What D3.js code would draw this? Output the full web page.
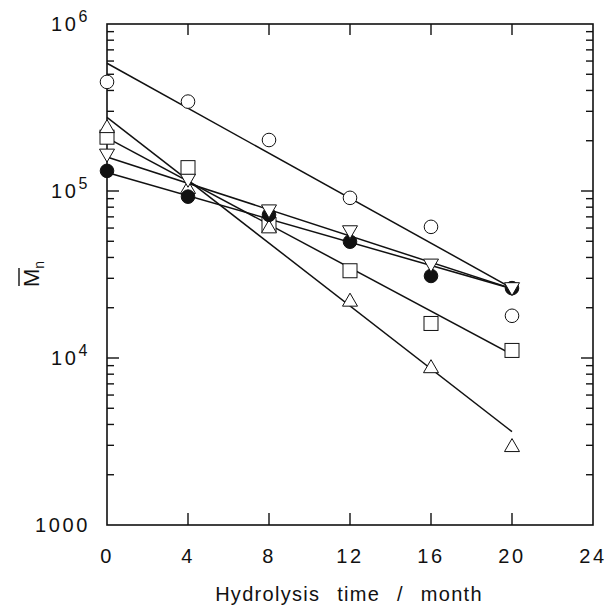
<!DOCTYPE html>
<html>
<head>
<meta charset="utf-8">
<script src="https://cdn.jsdelivr.net/npm/d3@7"></script>
<style>
  html, body { margin: 0; padding: 0; background: #fff; }
  svg { display: block; }
  text { font-family: "Liberation Sans", Arial, Helvetica, sans-serif; fill: #111; }
</style>
</head>
<body>
<svg id="chart" width="608" height="607"></svg>
<script>
// Hydrolysis time (months)
const months = [0, 4, 8, 12, 16, 20];

// Number-average molecular weight per sample
const openCircle   = [450000, 343000, 202000, 91000, 61000, 17900];
const filledCircle = [132000, 92500, 72000, 49700, 31000, 26200];
const downTriangle = [164000, 116000, 76000, 57000, 36000, 26000];
const openSquare   = [210000, 138000, 63000, 33300, 16100, 11100];
const upTriangle   = [243000, 105000, 61000, 22200, 8870, 2990];

// Exponential fit lines: value at month 0 and month 20
const fitOpenCircle   = [582000, 26200];
const fitFilledCircle = [129000, 26000];
const fitDownTriangle = [160000, 26000];
const fitOpenSquare   = [208000, 10500];
const fitUpTriangle   = [276000, 3620];
const fitMonths = [0, 20];

// Axis ticks
const xTicks = [0, 4, 8, 12, 16, 20, 24];
const yMajor = [1000, 10000, 100000, 1000000];
const yTickLabels = [["1000", ""], ["10", "4"], ["10", "5"], ["10", "6"]];

const series = [
  { values: openCircle,   fit: fitOpenCircle,   shape: "circle",   filled: false },
  { values: openSquare,   fit: fitOpenSquare,   shape: "square",   filled: false },
  { values: upTriangle,   fit: fitUpTriangle,   shape: "up",       filled: false },
  { values: filledCircle, fit: fitFilledCircle, shape: "circle",   filled: true },
  { values: downTriangle, fit: fitDownTriangle, shape: "down",     filled: false }
];

const svg = d3.select("#chart");
const plotLeft = 107, plotRight = 593, plotTop = 24, plotBottom = 525;

const x = d3.scaleLinear().domain([0, 24]).range([plotLeft, plotRight]);
const y = d3.scaleLog().domain([1000, 1000000]).range([plotBottom, plotTop]);

const yMinor = [];
for (let d = 1000; d < 1000000; d *= 10) {
  for (let k = 2; k <= 9; k++) yMinor.push(d * k);
}

// Frame
svg.append("rect")
  .attr("x", plotLeft).attr("y", plotTop)
  .attr("width", plotRight - plotLeft).attr("height", plotBottom - plotTop)
  .attr("fill", "none").attr("stroke", "#111").attr("stroke-width", 1.6);

const tickG = svg.append("g").attr("stroke", "#111").attr("stroke-width", 1.4);

// X ticks on bottom and top, pointing inward
xTicks.slice(1, -1).forEach(t => {
  tickG.append("line").attr("x1", x(t)).attr("x2", x(t)).attr("y1", plotBottom).attr("y2", plotBottom - 12);
  tickG.append("line").attr("x1", x(t)).attr("x2", x(t)).attr("y1", plotTop).attr("y2", plotTop + 11);
});

// Y ticks on left and right, pointing inward
yMajor.slice(1, -1).forEach(t => {
  tickG.append("line").attr("x1", plotLeft).attr("x2", plotLeft + 12).attr("y1", y(t)).attr("y2", y(t));
  tickG.append("line").attr("x1", plotRight).attr("x2", plotRight - 12).attr("y1", y(t)).attr("y2", y(t));
});
yMinor.forEach(t => {
  tickG.append("line").attr("x1", plotLeft).attr("x2", plotLeft + 7).attr("y1", y(t)).attr("y2", y(t));
  tickG.append("line").attr("x1", plotRight).attr("x2", plotRight - 7).attr("y1", y(t)).attr("y2", y(t));
});

// X tick labels
svg.append("g").selectAll("text").data(xTicks).join("text")
  .attr("x", d => x(d))
  .attr("y", 563)
  .attr("text-anchor", "middle")
  .attr("font-size", 20)
  .attr("letter-spacing", 2.6)
  .text(d => d);

// Y tick labels
yMajor.forEach((v, i) => {
  const [base, exp] = yTickLabels[i];
  const t = svg.append("text")
    .attr("x", 90)
    .attr("y", y(v) + 7)
    .attr("text-anchor", "end")
    .attr("font-size", 20)
    .attr("letter-spacing", 2.6);
  t.append("tspan").text(base);
  if (exp) {
    t.append("tspan").attr("dy", -9).attr("font-size", 16).text(exp);
  }
});

// Axis titles
svg.append("text")
  .attr("x", 349).attr("y", 601)
  .attr("text-anchor", "middle")
  .attr("font-size", 20)
  .attr("letter-spacing", 1.3)
  .attr("word-spacing", 10)
  .text("Hydrolysis time / month");

const yTitle = svg.append("g").attr("transform", "translate(39,274) rotate(-90)");
const yt = yTitle.append("text")
  .attr("text-anchor", "middle")
  .attr("font-size", 22);
yt.append("tspan").text("M");
yt.append("tspan").attr("dy", 5).attr("font-size", 14).text("n");
yTitle.append("line")
  .attr("x1", -12).attr("x2", 6)
  .attr("y1", -20).attr("y2", -20)
  .attr("stroke", "#111").attr("stroke-width", 1.4);

// Fit lines
const fitLine = d3.line().x(d => x(d[0])).y(d => y(d[1]));
svg.append("g").selectAll("path").data(series).join("path")
  .attr("d", s => fitLine(fitMonths.map((m, i) => [m, s.fit[i]])))
  .attr("fill", "none")
  .attr("stroke", "#111")
  .attr("stroke-width", 1.5);

// Markers
function drawMarker(g, s, cx, cy) {
  const fill = s.filled ? "#111" : "#fff";
  const common = el => el.attr("fill", fill).attr("stroke", "#111").attr("stroke-width", 1);
  if (s.shape === "circle") {
    common(g.append("circle").attr("cx", cx).attr("cy", cy).attr("r", 6.8));
  } else if (s.shape === "square") {
    common(g.append("rect").attr("x", cx - 7).attr("y", cy - 7).attr("width", 14).attr("height", 14));
  } else if (s.shape === "up") {
    common(g.append("path").attr("d", `M${cx - 7.5},${cy + 6} L${cx + 7.5},${cy + 6} L${cx},${cy - 7} Z`));
  } else {
    common(g.append("path").attr("d", `M${cx - 7.5},${cy - 6} L${cx + 7.5},${cy - 6} L${cx},${cy + 7} Z`));
  }
}

const markG = svg.append("g");
series.forEach(s => {
  s.values.forEach((v, i) => drawMarker(markG, s, x(months[i]), y(v)));
});
</script>
</body>
</html>
